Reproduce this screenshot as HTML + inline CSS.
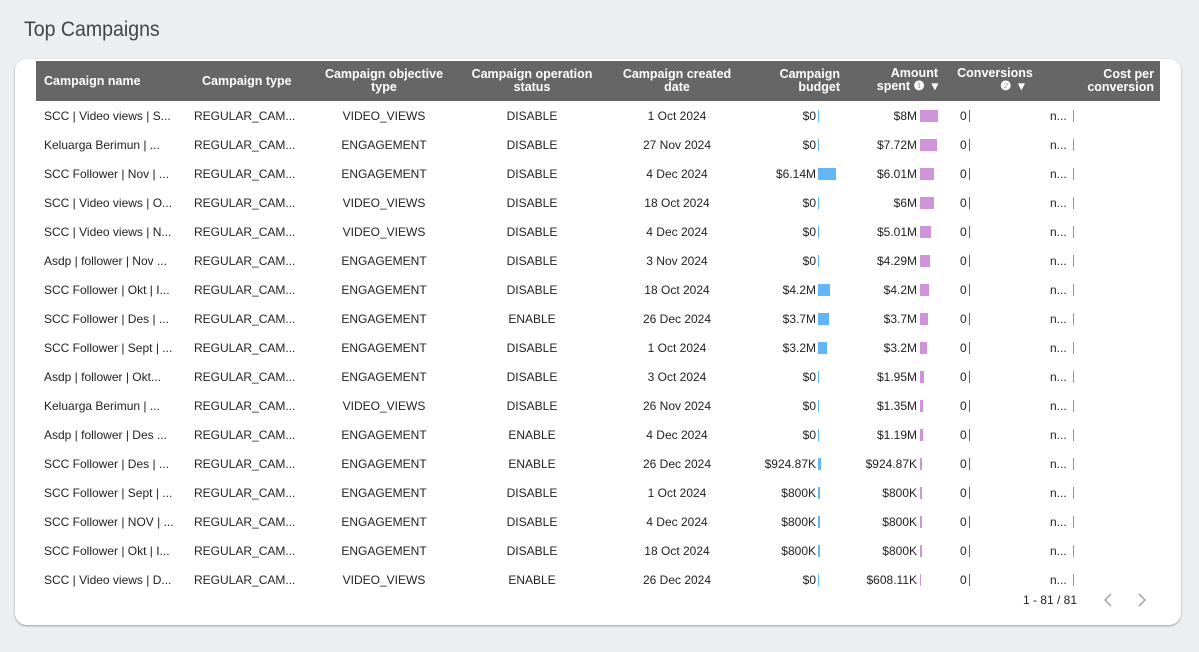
<!DOCTYPE html>
<html><head><meta charset="utf-8"><style>
body{margin:0;width:1199px;height:652px;background:#eceff2;font-family:"Liberation Sans",sans-serif;position:relative;overflow:hidden}
.t{position:absolute;left:24px;top:18px;font-size:21px;color:#444;transform:scaleX(.93);transform-origin:left}
.card{position:absolute;left:15px;top:59px;width:1166px;height:566px;background:#fff;border-radius:12px;box-shadow:0 1px 2px rgba(0,0,0,.35)}
.hdr{position:absolute;left:36px;top:61px;width:1124px;height:40px;background:#666}
.h{position:absolute;color:#fff;font-weight:bold;font-size:12.5px;line-height:13px}
.c{position:absolute;font-size:12px;color:#222;white-space:nowrap;line-height:14px}
.b{position:absolute;height:12px}
</style></head><body>
<div class="t">Top Campaigns</div>
<div class="card"></div>
<div class="hdr"></div>
<div class="h" style="left:44px;top:75px">Campaign name</div>
<div class="h" style="left:202px;top:75px">Campaign type</div>
<div class="h" style="left:314px;top:68px;width:140px;text-align:center">Campaign objective<br>type</div>
<div class="h" style="left:462px;top:68px;width:140px;text-align:center">Campaign operation<br>status</div>
<div class="h" style="left:607px;top:68px;width:140px;text-align:center">Campaign created<br>date</div>
<div class="h" style="left:740px;top:68px;width:100px;text-align:right">Campaign<br>budget</div>
<div class="h" style="left:838px;top:67px;width:100px;text-align:right">Amount<br>spent ❶ &nbsp;▾</div>
<div class="h" style="left:945px;top:67px;width:100px;text-align:center">Conversions<br>&nbsp;&nbsp;&nbsp;&nbsp;&nbsp;&nbsp;&nbsp;&nbsp;&nbsp;&nbsp;❷ &nbsp;▾</div>
<div class="h" style="left:1054px;top:68px;width:100px;text-align:right">Cost per<br>conversion</div>
<div id="rows"></div>
<div class="c" style="left:1000px;top:593px;width:77px;text-align:right">1 - 81 / 81</div>
<svg style="position:absolute;left:1100px;top:592px" width="50" height="16"><path d="M11 2L5 8L11 14M39 2L45 8L39 14" fill="none" stroke="#999" stroke-width="1.3"/></svg>
<script>
var d=[
["SCC | Video views | S...","VIDEO_VIEWS","DISABLE","1 Oct 2024","$0",0,"$8M",8],
["Keluarga Berimun | ...","ENGAGEMENT","DISABLE","27 Nov 2024","$0",0,"$7.72M",7.72],
["SCC Follower | Nov | ...","ENGAGEMENT","DISABLE","4 Dec 2024","$6.14M",6.14,"$6.01M",6.01],
["SCC | Video views | O...","VIDEO_VIEWS","DISABLE","18 Oct 2024","$0",0,"$6M",6],
["SCC | Video views | N...","VIDEO_VIEWS","DISABLE","4 Dec 2024","$0",0,"$5.01M",5.01],
["Asdp | follower | Nov ...","ENGAGEMENT","DISABLE","3 Nov 2024","$0",0,"$4.29M",4.29],
["SCC Follower | Okt | I...","ENGAGEMENT","DISABLE","18 Oct 2024","$4.2M",4.2,"$4.2M",4.2],
["SCC Follower | Des | ...","ENGAGEMENT","ENABLE","26 Dec 2024","$3.7M",3.7,"$3.7M",3.7],
["SCC Follower | Sept | ...","ENGAGEMENT","DISABLE","1 Oct 2024","$3.2M",3.2,"$3.2M",3.2],
["Asdp | follower | Okt...","ENGAGEMENT","DISABLE","3 Oct 2024","$0",0,"$1.95M",1.95],
["Keluarga Berimun | ...","VIDEO_VIEWS","DISABLE","26 Nov 2024","$0",0,"$1.35M",1.35],
["Asdp | follower | Des ...","ENGAGEMENT","ENABLE","4 Dec 2024","$0",0,"$1.19M",1.19],
["SCC Follower | Des | ...","ENGAGEMENT","ENABLE","26 Dec 2024","$924.87K",.92487,"$924.87K",.92487],
["SCC Follower | Sept | ...","ENGAGEMENT","DISABLE","1 Oct 2024","$800K",.8,"$800K",.8],
["SCC Follower | NOV | ...","ENGAGEMENT","DISABLE","4 Dec 2024","$800K",.8,"$800K",.8],
["SCC Follower | Okt | I...","ENGAGEMENT","DISABLE","18 Oct 2024","$800K",.8,"$800K",.8],
["SCC | Video views | D...","VIDEO_VIEWS","ENABLE","26 Dec 2024","$0",0,"$608.11K",.60811]];
var h="";
d.forEach(function(r,i){var y=109+i*29;
h+='<div class="c" style="left:44px;top:'+y+'px">'+r[0]+'</div>';
h+='<div class="c" style="left:194px;top:'+y+'px">REGULAR_CAM...</div>';
h+='<div class="c" style="left:314px;top:'+y+'px;width:140px;text-align:center">'+r[1]+'</div>';
h+='<div class="c" style="left:462px;top:'+y+'px;width:140px;text-align:center">'+r[2]+'</div>';
h+='<div class="c" style="left:607px;top:'+y+'px;width:140px;text-align:center">'+r[3]+'</div>';
h+='<div class="c" style="left:716px;top:'+y+'px;width:100px;text-align:right">'+r[4]+'</div>';
h+='<div class="b" style="left:818px;top:'+(y+1)+'px;width:'+Math.max(1,r[5]/6.14*18)+'px;background:#64b5f6"></div>';
h+='<div class="c" style="left:817px;top:'+y+'px;width:100px;text-align:right">'+r[6]+'</div>';
h+='<div class="b" style="left:920px;top:'+(y+1)+'px;width:'+Math.max(1,r[7]/8*18)+'px;background:#ce93d8"></div>';
h+='<div class="c" style="left:960px;top:'+y+'px">0</div>';
h+='<div class="b" style="left:969px;top:'+(y+1)+'px;width:1px;background:#e91e63"></div>';
h+='<div class="c" style="left:1050px;top:'+y+'px">n...</div>';
h+='<div class="b" style="left:1073px;top:'+(y+1)+'px;width:1px;background:#ff7043"></div>';
});
document.getElementById("rows").innerHTML=h;
</script>
</body></html>
